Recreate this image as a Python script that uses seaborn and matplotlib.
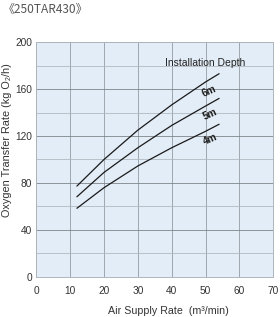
import matplotlib
matplotlib.use("Agg")
import matplotlib.pyplot as plt
import seaborn as sns
import pandas as pd
from matplotlib.ticker import MultipleLocator

# ---- data ----
air_rate = [12, 20, 30, 40, 50, 54]
depth_6m = [77.4, 100, 125.0, 146.5, 166, 173]
depth_5m = [68.3, 89, 110, 129.0, 145.5, 152]
depth_4m = [58.5, 76, 94.5, 110, 124, 130]
depth_labels = ["6m", "5m", "4m"]
label_pos_x = [51.2, 51.4, 51.4]
label_pos_y = [158.5, 138.7, 117.0]

title = "《250TAR430》"
x_label = "Air Supply Rate  (m³/min)"
y_label = "Oxygen Transfer Rate (kg O₂/h)"
legend_title = "Installation Depth"

rows = []
for name, vals in zip(depth_labels, [depth_6m, depth_5m, depth_4m]):
    for x, y in zip(air_rate, vals):
        rows.append({"air": x, "otr": y, "depth": name})
df = pd.DataFrame(rows)

sns.set_theme(style="white")
plt.rcParams['font.family'] = ['Liberation Sans', 'Noto Sans CJK JP', 'DejaVu Sans']

fig = plt.figure(figsize=(2.8, 3.17), dpi=100)
ax = fig.add_axes([0.1296, 0.1262, 0.976 - 0.1296, 0.8675 - 0.1262])
ax.set_facecolor("#E3EDF7")

ax.set_xlim(0, 70)
ax.set_ylim(0, 200)
ax.xaxis.set_major_locator(MultipleLocator(10))
ax.yaxis.set_major_locator(MultipleLocator(40))
ax.yaxis.set_minor_locator(MultipleLocator(20))
ax.grid(which="major", axis="y", color="#7E848A", linewidth=0.6)
ax.grid(which="major", axis="x", color="#959BA1", linewidth=0.6)
ax.grid(which="minor", axis="y", color="#AEB5BB", linewidth=0.55)
ax.set_axisbelow(True)

sns.lineplot(data=df, x="air", y="otr", hue="depth",
             palette={"6m": "#1a1a1a", "5m": "#1a1a1a", "4m": "#1a1a1a"},
             linewidth=0.9, legend=False, ax=ax)

for s in ax.spines.values():
    s.set_color("#AEB5BB")
    s.set_linewidth(0.7)

ax.tick_params(axis="both", which="both", length=0, labelsize=7.3,
               labelcolor="#333333")
ax.tick_params(axis="x", pad=6.5)
ax.tick_params(axis="y", pad=3)
ax.set_xlabel("")
ax.set_ylabel("")

for lab, lx, ly in zip(depth_labels, label_pos_x, label_pos_y):
    ax.text(lx, ly, lab, fontsize=7.3, fontweight="bold", color="#1a1a1a",
            rotation=24, ha="center", va="center")

ax.text(49.8, 182.4, legend_title, fontsize=7.5, color="#222222",
        ha="center", va="center")

fig.text(168.5 / 280, 1 - 310.5 / 317, x_label, fontsize=7.7, color="#333333",
         ha="center", va="center")
fig.text(7 / 280, 1 - 140 / 317, y_label, fontsize=7.8, color="#333333",
         ha="center", va="center", rotation=90)
fig.text(3 / 280, 1 - 9 / 317, title, fontsize=8.6, color="#555555",
         ha="left", va="center",
         family=['Noto Sans CJK JP', 'Liberation Sans', 'DejaVu Sans'])

fig.savefig("out.png", dpi=100)
